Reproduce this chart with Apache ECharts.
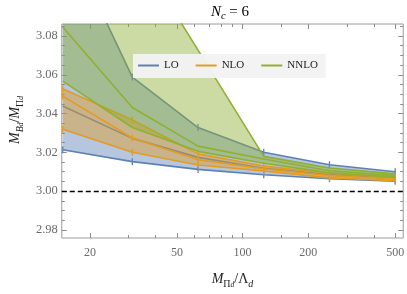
<!DOCTYPE html>
<html><head><meta charset="utf-8">
<script src="https://cdn.jsdelivr.net/npm/echarts@6/dist/echarts.min.js"></script>
<style>html,body{margin:0;padding:0;background:#fff}#c{width:407px;height:294px}</style>
</head><body><div id="c"></div>
<script>
// ---- data ----
const xValues     = [15, 31.25, 62.5, 125, 250, 500];
const loLower     = [3.0213, 3.0152, 3.0112, 3.0084, 3.0064, 3.0051];
const loCentral   = [3.0439, 3.0272, 3.0174, 3.0118, 3.0085, 3.0065];
const loUpper     = [3.1347, 3.0588, 3.0328, 3.0200, 3.0136, 3.0100];
const nloLower    = [3.0319, 3.0200, 3.0135, 3.0104, 3.0068, 3.0054];
const nloCentral  = [3.0490, 3.0274, 3.0162, 3.0115, 3.0080, 3.0063];
const nloUpper    = [3.0528, 3.0367, 3.0192, 3.0129, 3.0092, 3.0071];
const nnloLower   = [3.0567, 3.0328, 3.0205, 3.0144, 3.0094, 3.0072];
const nnloCentral = [3.0846, 3.0431, 3.0232, 3.0166, 3.0105, 3.0080];
const nnloUpper   = [3.2000, 3.1273, 3.0727, 3.0179, 3.0119, 3.0089];
const xMajorTicks = [20, 50, 100, 200, 500];
const xMinorTicks = [30, 40, 60, 70, 80, 90, 150, 300, 400];
const yMajorTicks = [2.98, 3.00, 3.02, 3.04, 3.06, 3.08];
const yMinorTicks = [2.985, 2.99, 2.995, 3.005, 3.01, 3.015, 3.025, 3.03, 3.035, 3.045, 3.05, 3.055, 3.065, 3.07, 3.075, 3.085];
const legendNames = ['LO', 'NLO', 'NNLO'];
const refLine = 3.00;

// ---- styling ----
const SERIF = "'Liberation Serif','DejaVu Serif',serif";
const colors = { LO: '#5E81B5', NLO: '#E19C24', NNLO: '#8FB032' };
const fills  = { LO: 'rgba(94,129,181,0.45)', NLO: 'rgba(225,156,36,0.45)', NNLO: 'rgba(143,176,50,0.45)' };
const X_MIN = 14.85, X_MAX = 544, Y_MIN = 2.9758, Y_MAX = 3.0862;

const lx = v => Math.log10(v);
const pts = arr => xValues.map((x, i) => [lx(x), arr[i]]);

function lineSeries(name, color, arr, marker, z) {
  return {
    type: 'line', name, data: pts(arr), animation: false, clip: true, z,
    lineStyle: { color, width: 1.6 },
    itemStyle: { color },
    symbol: 'rect', symbolSize: [1.3, 7], showSymbol: marker,
    emphasis: { disabled: true }
  };
}
function bandSeries(name, lo, hi, z) {
  return {
    type: 'custom', name: name + ' band', coordinateSystem: 'cartesian2d', clip: true, z,
    animation: false, silent: true,
    data: [pts(lo)[0]],
    renderItem: (params, api) => {
      const top = xValues.map((x, i) => api.coord([lx(x), hi[i]]));
      const bot = xValues.map((x, i) => api.coord([lx(x), lo[i]])).reverse();
      return { type: 'polygon', shape: { points: top.concat(bot) }, style: { fill: fills[name], stroke: null } };
    }
  };
}
function group(name, lo, mid, hi, marker, z) {
  const c = colors[name];
  return [
    bandSeries(name, lo, hi, z),
    lineSeries(name, c, lo, marker, z + 1),
    lineSeries(name + ' upper', c, hi, marker, z + 1),
    lineSeries(name + ' central', c, mid, marker && name !== 'LO', z + 1)
  ];
}

const series = [
  ...group('LO', loLower, loCentral, loUpper, true, 3),
  ...group('NLO', nloLower, nloCentral, nloUpper, true, 5),
  ...group('NNLO', nnloLower, nnloCentral, nnloUpper, false, 7)
];
series[1].markLine = {
  silent: true, symbol: 'none', label: { show: false }, animation: false,
  lineStyle: { color: '#000', type: [5, 3], width: 1.3 },
  data: [{ yAxis: refLine }]
};

const tickColor = '#8c8c8c';
function xAx(pos, ticks, len, labels) {
  return {
    type: 'value', position: pos, min: lx(X_MIN), max: lx(X_MAX),
    axisLine: { show: false },
    splitLine: { show: false },
    axisTick: { show: true, inside: true, length: len, customValues: ticks.map(lx), lineStyle: { color: tickColor, width: 1 } },
    axisLabel: labels ? {
      show: true, customValues: ticks.map(lx), margin: 9,
      fontFamily: SERIF, fontSize: 12, color: '#6a6a6a',
      formatter: v => String(Math.round(Math.pow(10, v)))
    } : { show: false }
  };
}
function yAx(pos, ticks, len, labels) {
  return {
    type: 'value', position: pos, min: Y_MIN, max: Y_MAX,
    axisLine: { show: false },
    splitLine: { show: false },
    axisTick: { show: true, inside: true, length: len, customValues: ticks, lineStyle: { color: tickColor, width: 1 } },
    axisLabel: labels ? {
      show: true, customValues: ticks, margin: 4,
      fontFamily: SERIF, fontSize: 12.5, color: '#6a6a6a',
      formatter: v => v.toFixed(2)
    } : { show: false }
  };
}

const rich = {
  i:  { fontFamily: SERIF, fontStyle: 'italic', fontSize: 14, color: '#222', lineHeight: 20 },
  n:  { fontFamily: SERIF, fontSize: 14, color: '#222', lineHeight: 20 },
  s:  { fontFamily: SERIF, fontSize: 10, color: '#222', verticalAlign: 'bottom', lineHeight: 12 },
  si: { fontFamily: SERIF, fontStyle: 'italic', fontSize: 10, color: '#222', verticalAlign: 'bottom', lineHeight: 12 },
  ss: { fontFamily: SERIF, fontStyle: 'italic', fontSize: 7.5, color: '#222', verticalAlign: 'bottom', lineHeight: 7 }
};
const titleRich = {
  i:  { fontFamily: SERIF, fontStyle: 'italic', fontSize: 15, color: '#222', lineHeight: 20 },
  n:  { fontFamily: SERIF, fontSize: 15, color: '#222', lineHeight: 20 },
  si: { fontFamily: SERIF, fontStyle: 'italic', fontSize: 10.5, color: '#222', verticalAlign: 'bottom', lineHeight: 12 }
};

const xMain = xAx('bottom', xMajorTicks, 5, true);
xMain.name = '{i|M}{s|Π}{ss|d}{n|/Λ}{si|d}';
xMain.nameLocation = 'middle';
xMain.nameGap = 31;
xMain.nameTextStyle = { rich };

const yMain = yAx('left', yMajorTicks, 5, true);
yMain.name = '{i|M}{si|B}{ss|d}{n|/}{i|M}{s|Π}{ss|d}';
yMain.nameLocation = 'middle';
yMain.nameRotate = 90;
yMain.nameGap = 30;
yMain.nameTextStyle = { rich, padding: [0, 0, 0, 22] };

const option = {
  backgroundColor: '#fff',
  animation: false,
  grid: { left: 53.3, right: 2.7, top: 24, bottom: 54.7, show: true, borderColor: '#9a9a9a', borderWidth: 1, backgroundColor: 'transparent' },
  xAxis: [xMain, xAx('bottom', xMinorTicks, 3, false), xAx('top', xMajorTicks, 5, false), xAx('top', xMinorTicks, 3, false)],
  yAxis: [yMain, yAx('left', yMinorTicks, 3, false), yAx('right', yMajorTicks, 5, false), yAx('right', yMinorTicks, 3, false)],
  legend: {
    data: legendNames.map(n => ({ name: n, icon: 'rect', itemStyle: { color: colors[n] } })),
    left: 133, top: 54, orient: 'horizontal', z: 20,
    padding: [6, 8, 7, 5], itemGap: 17, itemWidth: 21, itemHeight: 2,
    backgroundColor: 'rgba(243,243,243,0.96)',
    textStyle: { fontFamily: SERIF, fontSize: 11, color: '#222' },
    selectedMode: false
  },
  graphic: [{
    type: 'text', x: 230, y: 12, z: 100,
    style: { text: '{i|N}{si|c}{n| = 6}', rich: titleRich, align: 'center', verticalAlign: 'middle' }
  }],
  series
};

const chart = echarts.init(document.getElementById('c'), null, { renderer: 'canvas', width: 407, height: 294 });
chart.setOption(option);
</script></body></html>
